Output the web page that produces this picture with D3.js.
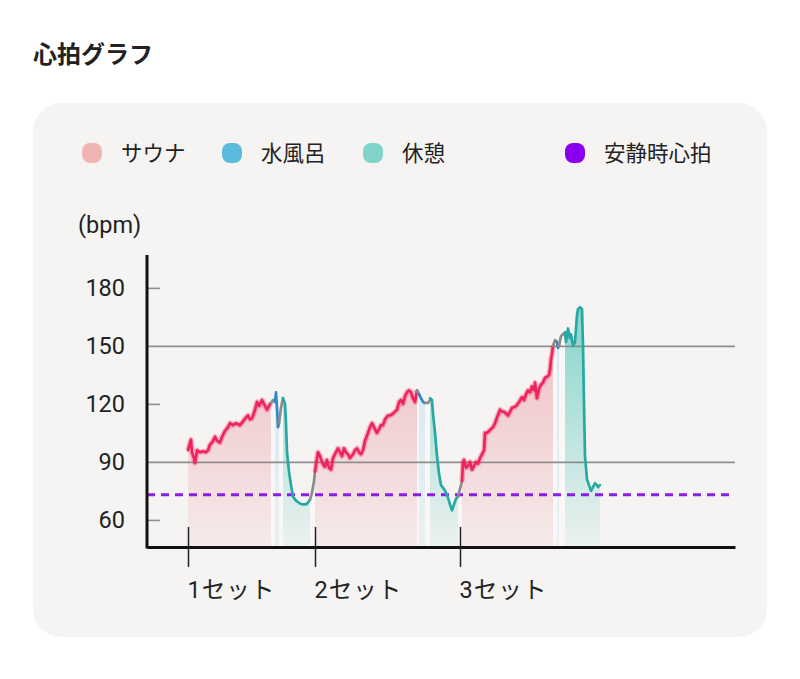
<!DOCTYPE html>
<html><head><meta charset="utf-8">
<script src="https://cdn.jsdelivr.net/npm/d3@7"></script>
<style>
body{margin:0;background:#fff;}
text{font-family:Roboto,"Noto Sans CJK JP",sans-serif;fill:#222;}
</style>
</head><body>
<svg id="c" width="800" height="679"></svg>
<script>
// ---- data ----
const chartTitle = "心拍グラフ";
const legendLabels = ["サウナ", "水風呂", "休憩", "安静時心拍"];
const legendColors = ["#f0b4b2", "#5bbbdc", "#80d4ca", "#8a00ee"];
const yUnit = "(bpm)";
const setLabels = ["1セット", "2セット", "3セット"];
const setStarts = [10.25, 42, 78.25];      // minutes
const yTicks = [60, 90, 120, 150, 180];
const gridValues = [90, 150];
const restingHR = 73;
const timeDomain = [0, 147];
const bpmDomain = [46, 197];

// [minute, bpm]
const sauna1 = [[10.25,96],[10.75,100],[11,101.5],[11.25,95],[11.75,92],[12,89.5],[12.5,96],[13.25,95],[14,95.5],[14.75,95],[15.25,96],[15.75,99],[16.25,100],[17,103],[17.5,101],[18.25,100],[18.75,103],[19.5,106],[20.25,108],[20.75,110],[21.5,109],[22.25,110],[23.25,109],[24,111],[24.75,113],[25.25,114],[25.75,112],[26.25,112.5],[27,117],[27.5,121],[28,119],[28.75,122],[29.25,120],[30,117],[30.5,119],[31,120.5]];
const trans1a = [[31,120.5],[31.5,122],[32,121]];
const water1 = [[32,121],[32.25,126],[32.5,118],[32.75,108],[33,110]];
const trans1b = [[33,110],[33.5,118],[34,123]];
const rest1 = [[34,123],[34.5,120],[34.75,110],[35,95],[35.5,85],[36,78],[36.5,72],[37.25,70],[38.25,68.5],[39,68],[39.75,68],[40.25,69],[40.75,70.5]];
const trans1c = [[40.75,70.5],[41.25,74],[41.75,80],[42,85]];

const sauna2 = [[42,85],[42.5,92],[42.75,95],[43.25,93],[43.75,90],[44.25,88],[44.5,87.5],[45,91],[45.5,87],[46,86],[46.5,92],[47.25,95],[47.75,97],[48.25,95],[48.75,93],[49.25,97],[49.75,95],[50.25,94],[50.75,92],[51.5,94],[52,96],[52.5,97],[53,95],[53.5,94],[54,96],[54.5,101],[55.25,105],[55.75,108],[56.25,110],[56.75,108],[57.5,105],[58,107],[58.5,109],[59,109],[59.5,112],[60.25,114],[60.75,114],[61.5,115],[62,116],[62.5,117],[63,121],[63.5,122],[64,120],[64.5,124],[65,126],[65.5,127],[66,126],[66.5,123],[67,121],[67.5,127]];
const trans2a = [[67.5,127],[68,125]];
const water2 = [[68,125],[68.5,123],[69,121],[69.5,120.5]];
const trans2b = [[69.5,120.5],[70.25,120.5],[70.75,122]];
const rest2 = [[70.75,123],[71.25,122],[71.5,115],[72,105],[72.5,93],[73,84],[73.5,78],[74.25,76],[74.75,74],[75.25,71.5],[75.75,68],[76.25,65],[76.75,68],[77.25,71],[77.75,72]];
const trans2c = [[77.75,72],[78.25,76],[78.75,80]];

const sauna3 = [[78.75,80],[79,90],[79.25,91],[79.75,87],[80.25,88],[80.75,90],[81.25,86],[81.75,88],[82.25,90],[82.75,89],[83.25,92],[83.75,94],[84.25,96],[84.5,105],[85,105],[85.75,106.5],[86.5,108],[87,110],[87.5,113],[88.25,117],[88.75,116],[89.25,116],[89.75,115],[90.25,114],[90.75,116],[91.25,118],[92,118.5],[92.5,119.5],[93,121],[93.75,123.5],[94.25,122],[94.75,125],[95.25,127],[95.75,126],[96.25,129],[96.75,127],[97,131],[97.5,123],[98,128],[98.5,130],[99,131],[99.5,133.5],[100,134],[100.5,135],[100.75,138],[101,143],[101.25,146],[101.5,150]];
const trans3a = [[101.5,150],[102,153],[102.5,152]];
const water3 = [[102.5,152],[102.75,149],[103,150]];
const trans3b = [[103,150],[103.5,155],[104,156],[104.5,157]];
const rest3 = [[104.5,157],[104.75,152],[105.25,159],[105.75,154],[106,156],[106.5,150],[107,152],[107.5,166],[107.75,169],[108.25,170],[108.75,169],[109,150],[109.25,120],[109.5,93],[110,81],[110.5,78],[111,75],[111.5,77],[112,79],[112.5,78],[112.75,77],[113.25,78]];

const segments = [
  {type:"sauna", data:sauna1},{type:"trans", data:trans1a},{type:"water", data:water1},{type:"trans", data:trans1b},{type:"rest", data:rest1},{type:"trans", data:trans1c},
  {type:"sauna", data:sauna2},{type:"trans", data:trans2a},{type:"water", data:water2},{type:"trans", data:trans2b},{type:"rest", data:rest2},{type:"trans", data:trans2c},
  {type:"sauna", data:sauna3},{type:"trans", data:trans3a},{type:"water", data:water3},{type:"trans", data:trans3b},{type:"rest", data:rest3}
];

// ---- styles ----
const lineColor = {sauna:"#f0245c", water:"#2e88c9", rest:"#27a9a3", trans:"#8c8c8c"};
const fillId = {sauna:"gSauna", water:"gWater", rest:"gRest", trans:"gTrans"};

const svg = d3.select("#c");
const x = d3.scaleLinear().domain(timeDomain).range([147, 735]);
const y = d3.scaleLinear().domain(bpmDomain).range([547, 255]);

// card
svg.append("rect").attr("x",33).attr("y",103).attr("width",734).attr("height",534).attr("rx",28).attr("fill","#f6f4f3");

// title
svg.append("text").attr("x",33).attr("y",63).attr("font-size",24).attr("font-weight",600)
  .style("font-family","'Noto Sans CJK JP',sans-serif").text(chartTitle);

// legend
const legendMarkX = [92, 232, 373, 575];
const lg = svg.append("g").selectAll("g").data(legendLabels).join("g")
  .attr("transform",(d,i)=>`translate(${legendMarkX[i]},153)`);
lg.append("rect").attr("x",-10).attr("y",-10).attr("width",20).attr("height",20).attr("rx",8)
  .attr("fill",(d,i)=>legendColors[i]);
lg.append("text").attr("x",29).attr("y",8).attr("font-size",21.5)
  .style("font-family","'Noto Sans CJK JP',sans-serif").text(d=>d);

// unit
svg.append("text").attr("x",78).attr("y",233).attr("font-size",23.5).text(yUnit);

// gradients
const defs = svg.append("defs");
function grad(id, color, o1, o2){
  const g = defs.append("linearGradient").attr("id",id).attr("gradientUnits","userSpaceOnUse")
    .attr("x1",0).attr("x2",0).attr("y1",y(180)).attr("y2",y(bpmDomain[0]));
  g.append("stop").attr("offset",0).attr("stop-color",color).attr("stop-opacity",o1);
  g.append("stop").attr("offset",1).attr("stop-color",color).attr("stop-opacity",o2);
}
grad("gSauna","#eca4aa",0.75,0.12);
grad("gRest","#7dd3c8",1,0.08);
grad("gWater","#a9d8ec",0.5,0.15);
grad("gTrans","#ffffff",0.35,0.3);

const area = d3.area().x(d=>x(d[0])).y0(y(bpmDomain[0])-1).y1(d=>y(d[1]));
const line = d3.line().x(d=>x(d[0])).y(d=>y(d[1]));

svg.append("g").selectAll("path").data(segments).join("path")
  .attr("d",d=>area(d.data)).attr("fill",d=>`url(#${fillId[d.type]})`);

// y axis
const yAxis = svg.append("g").attr("transform",`translate(${x(timeDomain[0])},0)`)
  .call(d3.axisLeft(y).tickValues(yTicks).tickSize(-13).tickSizeOuter(0).tickPadding(22));
yAxis.select(".domain").remove();
yAxis.selectAll(".tick line").attr("stroke","#8e8e8e").attr("stroke-width",1.6)
  .attr("x2",d=>gridValues.includes(d) ? x(timeDomain[1]) - x(timeDomain[0]) : 13);
yAxis.selectAll(".tick text").attr("font-size",23.5).attr("fill","#222")
  .style("font-family","Roboto,sans-serif");

// resting line
svg.append("line").attr("x1",x(timeDomain[0])).attr("x2",x(timeDomain[1]))
  .attr("y1",y(restingHR)).attr("y2",y(restingHR))
  .attr("stroke","#8a1de6").attr("stroke-width",3).attr("stroke-dasharray","8,6");

// lines
svg.append("g").selectAll("path").data(segments.filter(d=>d.type==="sauna")).join("path")
  .attr("d",d=>line(d.data)).attr("fill","none").attr("stroke","#f0245c").attr("stroke-opacity",0.3)
  .attr("stroke-width",5.5).attr("stroke-linejoin","round");
svg.append("g").selectAll("path").data(segments).join("path")
  .attr("d",d=>line(d.data)).attr("fill","none").attr("stroke",d=>lineColor[d.type])
  .attr("stroke-width",2.7).attr("stroke-linejoin","round").attr("stroke-linecap","round");

// x axis
const xAxis = svg.append("g").attr("transform",`translate(0,${y(bpmDomain[0])})`)
  .call(d3.axisBottom(x).tickValues(setStarts).tickFormat((d,i)=>setLabels[i]).tickSizeOuter(0));
xAxis.select(".domain").attr("stroke","#111").attr("stroke-width",3);
xAxis.selectAll(".tick line").attr("y1",-20).attr("y2",20).attr("stroke","#222").attr("stroke-width",1.5);
xAxis.selectAll(".tick text").attr("y",51).attr("dy",null).attr("text-anchor","start").attr("x",-1)
  .attr("font-size",23.5).attr("letter-spacing",1).attr("fill","#222");

// y axis line
svg.append("line").attr("x1",x(timeDomain[0])).attr("x2",x(timeDomain[0]))
  .attr("y1",y(bpmDomain[1])).attr("y2",y(bpmDomain[0])+1.5).attr("stroke","#111").attr("stroke-width",3);
</script>
</body></html>
